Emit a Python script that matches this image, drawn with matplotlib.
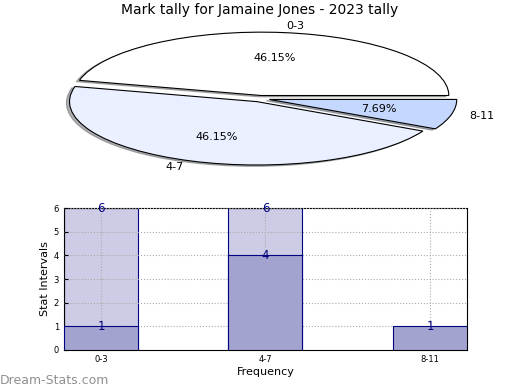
import matplotlib
matplotlib.use("Agg")
import matplotlib.pyplot as plt
import numpy as np

title = "Mark tally for Jamaine Jones - 2023 tally"
categories = ["0-3", "4-7", "8-11"]
pie_values = [6, 6, 1]
pie_colors = ["#ffffff", "#eaf0ff", "#c4d7ff"]
bar_back = [6, 6, 0]
bar_front = [1, 4, 1]
yticks = [0, 1, 2, 3, 4, 5, 6]

fig = plt.figure(figsize=(5.2, 3.9), dpi=100)
fig.text(0.5, 0.975, title, ha="center", va="center", fontsize=10)

# Pie
axp = fig.add_axes([0.068, 0.552, 0.865, 0.39])
wedges, texts, autotexts = axp.pie(
    pie_values, labels=categories, colors=pie_colors, startangle=0,
    explode=[0.05, 0.05, 0.05], shadow={"ox": -0.012, "oy": -0.015, "shade": 0.6},
    autopct="%.2f%%", pctdistance=0.6, labeldistance=1.1,
    wedgeprops=dict(edgecolor="black", linewidth=0.8),
    textprops=dict(fontsize=8))
axp.set_aspect("auto")
axp.set_xlim(-1.2, 1.2)
axp.set_ylim(-1.2, 1.2)
axp.axis("off")

# Bars
axb = fig.add_axes([0.123, 0.1026, 0.775, 0.364])
x = np.arange(len(categories))
w = 0.45
axb.bar(x, bar_back, width=w, color="#ccccE6", edgecolor="navy", linewidth=0.8, zorder=2)
axb.bar(x, bar_front, width=w, color="#a3a3cf", edgecolor="navy", linewidth=0.8, zorder=3)
for xi, v in zip(x, bar_back):
    if v > 0:
        axb.text(xi, v, str(v), ha="center", va="center", color="navy", fontsize=8.5, zorder=4)
for xi, v in zip(x, bar_front):
    axb.text(xi, v, str(v), ha="center", va="center", color="navy", fontsize=8.5, zorder=4)
axb.set_xlim(-0.225, 2.225)
axb.set_ylim(0, 6)
axb.set_xticks(x)
axb.set_xticklabels(categories, fontsize=6)
axb.set_yticks(yticks)
axb.tick_params(axis="y", labelsize=6)
axb.tick_params(direction="in", length=3)
axb.grid(True, linestyle=":", color="#aaaaaa", linewidth=0.8, zorder=5)
axb.set_axisbelow(False)
axb.set_xlabel("Frequency", fontsize=8, labelpad=2)
axb.set_ylabel("Stat Intervals", fontsize=8, labelpad=3)

fig.text(0.0, 0.025, "Dream-Stats.com", ha="left", va="center", fontsize=9,
         color="#909090")

fig.savefig("out.png", dpi=100)
